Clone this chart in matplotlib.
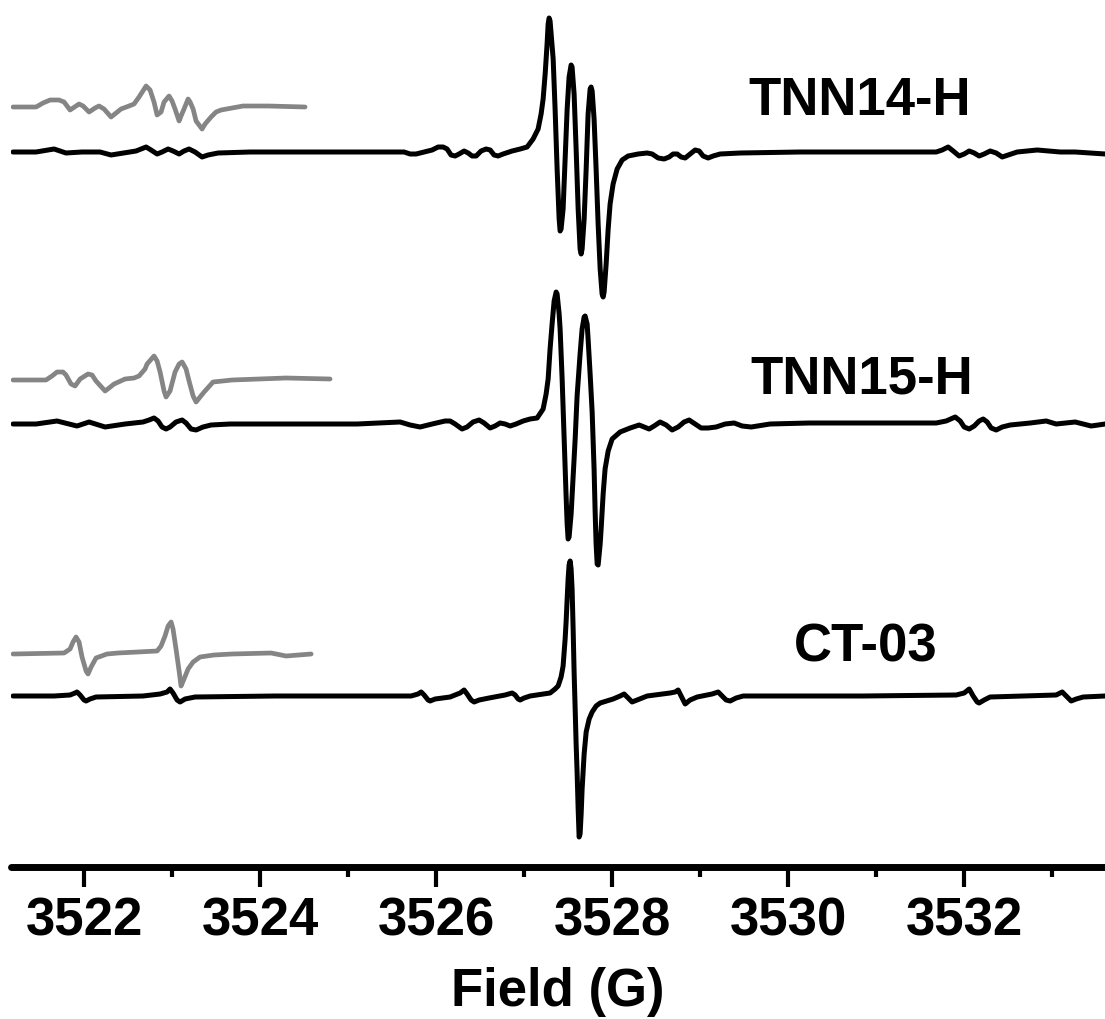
"""EPR spectra of TNN14-H, TNN15-H and CT-03 with magnified satellite insets (grey)."""

import numpy as np
import matplotlib
matplotlib.use("Agg")
import matplotlib.pyplot as plt

plt.rcParams["font.family"] = ["Liberation Sans", "DejaVu Sans"]
plt.rcParams["font.weight"] = "bold"

# ---- data: (field in G, intensity in a.u.) ----
SAMPLES = ["TNN14-H", "TNN15-H", "CT-03"]

top_trace = [
    (3521.193, 1), (3521.455, 1), (3521.659, 4), (3521.795, 0), (3521.977, 1),
    (3522.182, 1), (3522.307, -2), (3522.591, 2), (3522.648, 4), (3522.705, 6),
    (3522.761, 3), (3522.830, -1), (3522.886, 1), (3522.955, 4), (3523.011, 2),
    (3523.080, -1), (3523.136, 2), (3523.193, 4), (3523.261, 1), (3523.341, -4),
    (3523.409, -2), (3523.523, 0), (3523.886, 1), (3524.295, 1), (3525.102, 1),
    (3525.636, 1), (3525.705, -1), (3525.773, -1), (3525.864, 1), (3525.955, 3),
    (3526.023, 6), (3526.080, 6), (3526.125, 4), (3526.170, -2), (3526.216, -3),
    (3526.261, -1), (3526.318, 2), (3526.364, 0), (3526.409, -3), (3526.455, -3),
    (3526.511, 2), (3526.568, 4), (3526.614, 3), (3526.659, -2), (3526.705, -3),
    (3526.761, -1), (3526.864, 2), (3526.955, 4), (3527.034, 6), (3527.102, 14),
    (3527.159, 24), (3527.193, 39), (3527.216, 54), (3527.239, 79), (3527.261, 109),
    (3527.273, 129), (3527.284, 135), (3527.295, 132), (3527.307, 119), (3527.330, 94),
    (3527.352, 44), (3527.375, -16), (3527.398, -66), (3527.409, -78), (3527.420, -76),
    (3527.443, -56), (3527.466, -6), (3527.489, 44), (3527.511, 76), (3527.534, 88),
    (3527.545, 86), (3527.568, 59), (3527.591, 4), (3527.614, -56), (3527.636, -96),
    (3527.648, -101), (3527.659, -96), (3527.682, -66), (3527.705, -16), (3527.727, 39),
    (3527.750, 64), (3527.761, 66), (3527.773, 62), (3527.795, 34), (3527.818, -16),
    (3527.841, -71), (3527.864, -116), (3527.886, -141), (3527.898, -144), (3527.909, -139),
    (3527.932, -111), (3527.955, -76), (3527.977, -51), (3528.011, -31), (3528.057, -16),
    (3528.114, -7), (3528.182, -3), (3528.295, -1), (3528.398, 0), (3528.455, -1),
    (3528.523, -5), (3528.591, -6), (3528.648, -4), (3528.693, -1), (3528.739, -1),
    (3528.784, -4), (3528.830, -5), (3528.886, -1), (3528.943, 3), (3528.989, 2),
    (3529.034, -3), (3529.091, -5), (3529.148, -3), (3529.227, -1), (3529.455, 0),
    (3530.136, 1), (3531.682, 1), (3531.750, 3), (3531.818, 6), (3531.875, 2),
    (3531.943, -3), (3532.000, -1), (3532.057, 2), (3532.114, 0), (3532.170, -3),
    (3532.227, -1), (3532.295, 2), (3532.364, 0), (3532.432, -4), (3532.500, -2),
    (3532.602, 1), (3532.830, 3), (3533.091, 1), (3533.261, 1), (3533.602, -1),
]

top_zoom = [
    (3521.193, 0), (3521.455, 0), (3521.534, 4), (3521.614, 7), (3521.716, 7),
    (3521.773, 5), (3521.841, -3), (3521.875, -1), (3521.943, 3), (3521.989, 1),
    (3522.057, -5), (3522.125, -1), (3522.170, 1), (3522.227, -2), (3522.307, -10),
    (3522.364, -6), (3522.420, -2), (3522.511, 1), (3522.568, 3), (3522.625, 10),
    (3522.705, 21), (3522.750, 17), (3522.795, 5), (3522.830, -8), (3522.875, -5),
    (3522.909, 5), (3522.966, 11), (3523.000, 6), (3523.034, -2), (3523.080, -14),
    (3523.102, -9), (3523.136, -2), (3523.182, 8), (3523.205, 5), (3523.239, -2),
    (3523.273, -14), (3523.341, -22), (3523.375, -17), (3523.443, -10), (3523.500, -5),
    (3523.557, -3), (3523.807, 1), (3524.091, 1), (3524.511, 0),
]

mid_trace = [
    (3521.193, 0), (3521.455, 0), (3521.693, 3), (3521.920, -2), (3522.057, 2),
    (3522.239, -3), (3522.466, 0), (3522.670, 2), (3522.739, 4), (3522.795, 6),
    (3522.841, 3), (3522.886, -3), (3522.932, -5), (3522.977, -3), (3523.045, 2),
    (3523.114, 4), (3523.159, 1), (3523.216, -5), (3523.273, -6), (3523.352, -3),
    (3523.443, -1), (3523.659, 0), (3525.102, 0), (3525.591, 2), (3525.705, -1),
    (3525.818, -3), (3525.955, 0), (3526.102, 3), (3526.159, 3), (3526.216, 0),
    (3526.295, -5), (3526.352, -3), (3526.420, 2), (3526.489, 4), (3526.545, 1),
    (3526.614, -4), (3526.670, -2), (3526.727, 1), (3526.784, 0), (3526.841, -2),
    (3526.909, 0), (3526.989, 3), (3527.068, 5), (3527.148, 6), (3527.216, 15),
    (3527.250, 30), (3527.273, 45), (3527.295, 75), (3527.318, 100), (3527.341, 123),
    (3527.364, 132), (3527.375, 130), (3527.398, 110), (3527.409, 95), (3527.432, 45),
    (3527.455, -15), (3527.477, -72), (3527.489, -100), (3527.500, -115), (3527.511, -113),
    (3527.534, -90), (3527.545, -72), (3527.580, -15), (3527.602, 28), (3527.636, 70),
    (3527.659, 95), (3527.682, 107), (3527.693, 108), (3527.716, 100), (3527.727, 85),
    (3527.750, 50), (3527.773, 12), (3527.795, -45), (3527.807, -88), (3527.818, -120),
    (3527.830, -140), (3527.841, -141), (3527.864, -120), (3527.875, -105), (3527.898, -70),
    (3527.920, -45), (3527.955, -27), (3528.000, -15), (3528.091, -8), (3528.205, -4),
    (3528.307, -1), (3528.364, -3), (3528.420, -5), (3528.477, -2), (3528.545, 2),
    (3528.614, -1), (3528.682, -6), (3528.750, -3), (3528.818, 2), (3528.875, 4),
    (3528.943, 0), (3529.011, -4), (3529.091, -4), (3529.182, -3), (3529.284, 0),
    (3529.386, 1), (3529.477, -2), (3529.580, -3), (3529.795, 0), (3530.239, 1),
    (3531.682, 1), (3531.795, 3), (3531.898, 7), (3531.955, 3), (3532.000, -3),
    (3532.057, -5), (3532.114, -2), (3532.170, 3), (3532.216, 5), (3532.261, 2),
    (3532.307, -4), (3532.364, -6), (3532.432, -3), (3532.523, -1), (3532.750, 1),
    (3532.932, 3), (3533.045, 0), (3533.261, 2), (3533.443, -2), (3533.602, 0),
]

mid_zoom = [
    (3521.193, 0), (3521.568, 0), (3521.636, 4), (3521.693, 8), (3521.761, 8),
    (3521.795, 5), (3521.852, -4), (3521.898, -6), (3521.955, 1), (3522.045, 6),
    (3522.091, 5), (3522.136, -1), (3522.239, -11), (3522.284, -8), (3522.341, -4),
    (3522.466, 1), (3522.568, 2), (3522.625, 4), (3522.693, 11), (3522.716, 16),
    (3522.795, 24), (3522.830, 19), (3522.864, 8), (3522.909, -11), (3522.932, -17),
    (3522.977, -11), (3523.034, 8), (3523.080, 16), (3523.114, 18), (3523.159, 11),
    (3523.193, -1), (3523.239, -16), (3523.273, -22), (3523.318, -17), (3523.364, -12),
    (3523.466, -2), (3523.682, 0), (3524.295, 2), (3524.795, 1),
]

bot_trace = [
    (3521.193, 0), (3521.659, 0), (3521.841, 1), (3521.898, 3), (3521.920, 4),
    (3521.955, 1), (3522.000, -4), (3522.023, -5), (3522.068, -3), (3522.136, -1),
    (3522.670, 0), (3522.864, 2), (3522.943, 4), (3522.977, 7), (3523.011, 3),
    (3523.057, -4), (3523.091, -6), (3523.148, -3), (3523.261, -1), (3524.170, 0),
    (3525.716, 0), (3525.795, 2), (3525.830, 4), (3525.864, 1), (3525.909, -4),
    (3525.932, -5), (3525.989, -3), (3526.159, -1), (3526.273, 3), (3526.318, 6),
    (3526.352, 2), (3526.398, -4), (3526.432, -6), (3526.489, -4), (3526.602, -2),
    (3526.784, 1), (3526.864, 3), (3526.898, 1), (3526.932, -3), (3526.955, -4),
    (3527.000, -2), (3527.068, 0), (3527.295, 3), (3527.352, 7), (3527.386, 10),
    (3527.420, 19), (3527.443, 30), (3527.466, 57), (3527.477, 74), (3527.489, 97),
    (3527.500, 117), (3527.511, 131), (3527.523, 135), (3527.534, 127), (3527.545, 107),
    (3527.557, 67), (3527.568, 24), (3527.580, -13), (3527.591, -48), (3527.602, -76),
    (3527.614, -113), (3527.625, -141), (3527.636, -138), (3527.648, -118), (3527.659, -93),
    (3527.682, -58), (3527.705, -36), (3527.739, -23), (3527.773, -16), (3527.818, -10),
    (3527.864, -7), (3528.011, -3), (3528.091, 0), (3528.136, 2), (3528.182, -2),
    (3528.227, -6), (3528.284, -4), (3528.398, 0), (3528.659, 3), (3528.716, 4),
    (3528.750, 6), (3528.784, 0), (3528.830, -8), (3528.886, -4), (3528.966, -1),
    (3529.136, 2), (3529.205, 4), (3529.250, 0), (3529.295, -4), (3529.341, -5),
    (3529.409, -2), (3529.489, 0), (3530.852, 0), (3531.909, 1), (3532.000, 3),
    (3532.057, 7), (3532.102, 0), (3532.148, -6), (3532.170, -7), (3532.227, -4),
    (3532.295, -1), (3533.045, 1), (3533.114, 4), (3533.159, 0), (3533.216, -5),
    (3533.273, -3), (3533.352, -1), (3533.602, 0),
]

bot_zoom = [
    (3521.193, 0), (3521.773, 1), (3521.841, 5), (3521.875, 12), (3521.909, 17),
    (3521.943, 12), (3521.977, -3), (3522.023, -17), (3522.045, -20), (3522.080, -13),
    (3522.136, -4), (3522.261, 0), (3522.386, 1), (3522.830, 3), (3522.875, 8),
    (3522.920, 18), (3522.955, 28), (3522.989, 32), (3523.011, 25), (3523.045, 5),
    (3523.080, -17), (3523.102, -32), (3523.136, -25), (3523.182, -15), (3523.239, -8),
    (3523.318, -3), (3523.477, -1), (3523.682, 0), (3524.125, 1), (3524.295, -2),
    (3524.580, 0),
]

# vertical stacking of the traces (a.u.)
OFFSETS = [714, 443, 171]
ZOOM_OFFSETS = [760, 487, 213]

BLACK = "#000000"
GREY = "#858585"


def main():
    fig = plt.figure(figsize=(11.05, 10.20), dpi=100)
    ax = fig.add_axes([11 / 1105, 152 / 1020, 1 - 11 / 1105, 868 / 1020])

    for trace, off in zip([top_trace, mid_trace, bot_trace], OFFSETS):
        f, i = np.array(trace).T
        ax.plot(f, i + off, color=BLACK, lw=3.6,
                solid_joinstyle="round", solid_capstyle="round")
    for trace, off in zip([top_zoom, mid_zoom, bot_zoom], ZOOM_OFFSETS):
        f, i = np.array(trace).T
        ax.plot(f, i + off, color=GREY, lw=3.4,
                solid_joinstyle="round", solid_capstyle="round")

    label_pos = [(3530.807, 753), (3530.841, 475), (3530.886, 206)]
    for name, (x, y) in zip(SAMPLES, label_pos):
        ax.text(x, y, name, ha="center", va="baseline", fontsize=38,
                fontweight="bold")

    ax.set_xlim(3521.17, 3533.60)
    ax.set_ylim(0, 868)
    ax.set_xticks(np.arange(3522, 3533, 2))
    ax.set_xticks(np.arange(3523, 3534, 2), minor=True)
    ax.set_yticks([])
    for side in ("left", "right", "top"):
        ax.spines[side].set_visible(False)
    ax.spines["bottom"].set_linewidth(5)
    ax.spines["bottom"].set_capstyle("round")
    ax.tick_params(axis="x", which="major", length=14.4, width=3, pad=6,
                   labelsize=38)
    ax.tick_params(axis="x", which="minor", length=7.2, width=3)
    for lbl in ax.get_xticklabels():
        lbl.set_fontweight("bold")
    ax.set_xlabel("Field (G)", fontsize=38, fontweight="bold", labelpad=15)
    ax.patch.set_alpha(0)

    fig.savefig("out.png", dpi=100)


if __name__ == "__main__":
    main()
